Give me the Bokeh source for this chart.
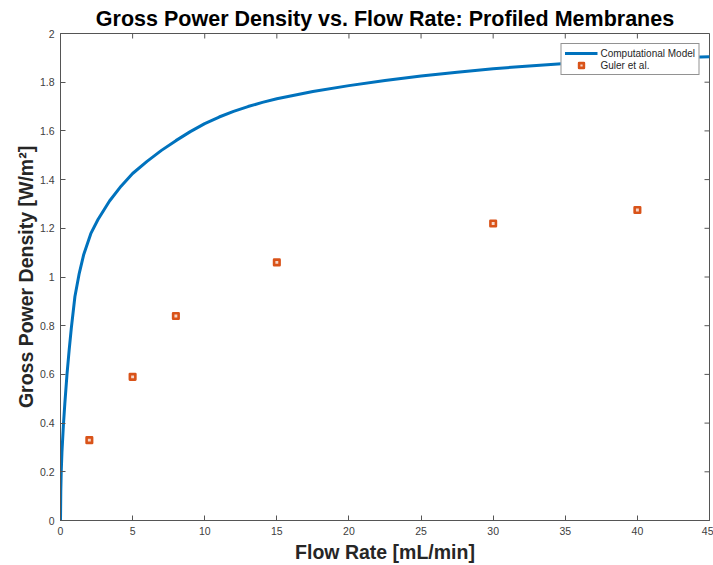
import math
from bokeh.plotting import figure
from bokeh.models import FixedTicker, Range1d, Legend, LegendItem
from bokeh.embed import file_html
from bokeh.resources import INLINE

# ---- data ----
model_flow = [0, 0.02, 0.05, 0.1, 0.2, 0.3, 0.45, 0.6, 0.75, 1.0, 1.3, 1.6, 2.1,
              2.6, 3.4, 4.2, 5, 6, 7, 8, 9, 10, 11, 12, 13, 14, 15, 17.5,
              20, 22.5, 25, 27.5, 30, 32.5, 35, 37.5, 40, 42.5, 45]
model_power = [0, 0.12, 0.20, 0.28, 0.39, 0.48, 0.60, 0.70, 0.79, 0.92, 1.015, 1.09, 1.178,
               1.236, 1.312, 1.373, 1.425, 1.475, 1.52, 1.56, 1.597, 1.63, 1.657, 1.68, 1.70,
               1.717, 1.732, 1.762, 1.786, 1.807, 1.825, 1.841, 1.855, 1.867, 1.877, 1.887,
               1.895, 1.900, 1.905]

exp_flow = [2, 5, 8, 15, 30, 40]
exp_power = [0.33, 0.59, 0.84, 1.06, 1.22, 1.275]

x_ticks = [0, 5, 10, 15, 20, 25, 30, 35, 40, 45]
x_tick_labels = ["0", "5", "10", "15", "20", "25", "30", "35", "40", "45"]
y_ticks = [0, 0.2, 0.4, 0.6, 0.8, 1, 1.2, 1.4, 1.6, 1.8, 2]
y_tick_labels = ["0", "0.2", "0.4", "0.6", "0.8", "1", "1.2", "1.4", "1.6", "1.8", "2"]
x_max = 45
y_max = 2

title_text = "Gross Power Density vs. Flow Rate: Profiled Membranes"
x_label = "Flow Rate [mL/min]"
y_label = "Gross Power Density [W/m²]"
series_names = ["Computational Model", "Guler et al."]

BLUE = "#0072BD"
ORANGE = "#D95319"
AXC = "#555555"
TXT = "#404040"
FONT = "Liberation Sans"

p = figure(width=713, height=565, output_backend="svg", toolbar_location=None,
           x_range=Range1d(0, x_max), y_range=Range1d(0, y_max),
           min_border_left=60, min_border_right=4, min_border_top=33, min_border_bottom=45)
p.xgrid.grid_line_color = None
p.ygrid.grid_line_color = None
p.outline_line_color = AXC
p.outline_line_width = 1
p.background_fill_color = "white"
p.border_fill_color = "white"

p.title.text = title_text
p.title.align = "center"
p.title.text_font = FONT
p.title.text_font_size = "21.5px"
p.title.text_font_style = "bold"
p.title.text_color = "black"
p.title.standoff = 5

xa = p.xaxis[0]
ya = p.yaxis[0]
xa.ticker = FixedTicker(ticks=x_ticks)
ya.ticker = FixedTicker(ticks=y_ticks)
xa.major_label_overrides = dict(zip(x_ticks, x_tick_labels))
ya.major_label_overrides = dict(zip(y_ticks, y_tick_labels))
for ax, lbl in ((xa, x_label), (ya, y_label)):
    ax.axis_line_color = AXC
    ax.axis_line_width = 1
    ax.major_tick_line_color = AXC
    ax.major_tick_in = 5
    ax.major_tick_out = 0
    ax.minor_tick_line_color = None
    ax.major_label_text_font = FONT
    ax.major_label_text_color = TXT
    ax.major_label_text_font_size = "10.5px"
    ax.major_label_standoff = 6
    ax.axis_label = lbl
    ax.axis_label_text_font = FONT
    ax.axis_label_text_font_size = "19.5px"
    ax.axis_label_text_font_style = "bold"
    ax.axis_label_text_color = "#262626"
xa.axis_label_standoff = 3
ya.axis_label_standoff = 0

# inward ticks on the top and right box edges (MATLAB "box on")
p.ray(x=x_ticks, y=[y_max] * len(x_ticks), length=5, length_units="screen",
      angle=-math.pi / 2, line_color=AXC, line_width=1)
p.ray(x=[x_max] * len(y_ticks), y=y_ticks, length=5, length_units="screen",
      angle=math.pi, line_color=AXC, line_width=1)

r_line = p.line(model_flow, model_power, line_color=BLUE, line_width=3, line_join="round")
r_pts = p.scatter(exp_flow, exp_power, marker="square", size=5.5, fill_color="#f6d6c8",
                  line_color=ORANGE, line_width=2.6, line_join="round")

legend = Legend(items=[LegendItem(label=series_names[0], renderers=[r_line]),
                       LegendItem(label=series_names[1], renderers=[r_pts])],
                location="top_right", margin=10, padding=3, spacing=0,
                glyph_height=12, glyph_width=33, label_height=12, label_standoff=3,
                label_text_font=FONT, label_text_font_size="10px",
                label_text_color="#262626",
                border_line_color="#262626", border_line_width=1,
                background_fill_color="white", background_fill_alpha=1)
p.add_layout(legend, "center")

open("out.html", "w").write(file_html(p, INLINE))
